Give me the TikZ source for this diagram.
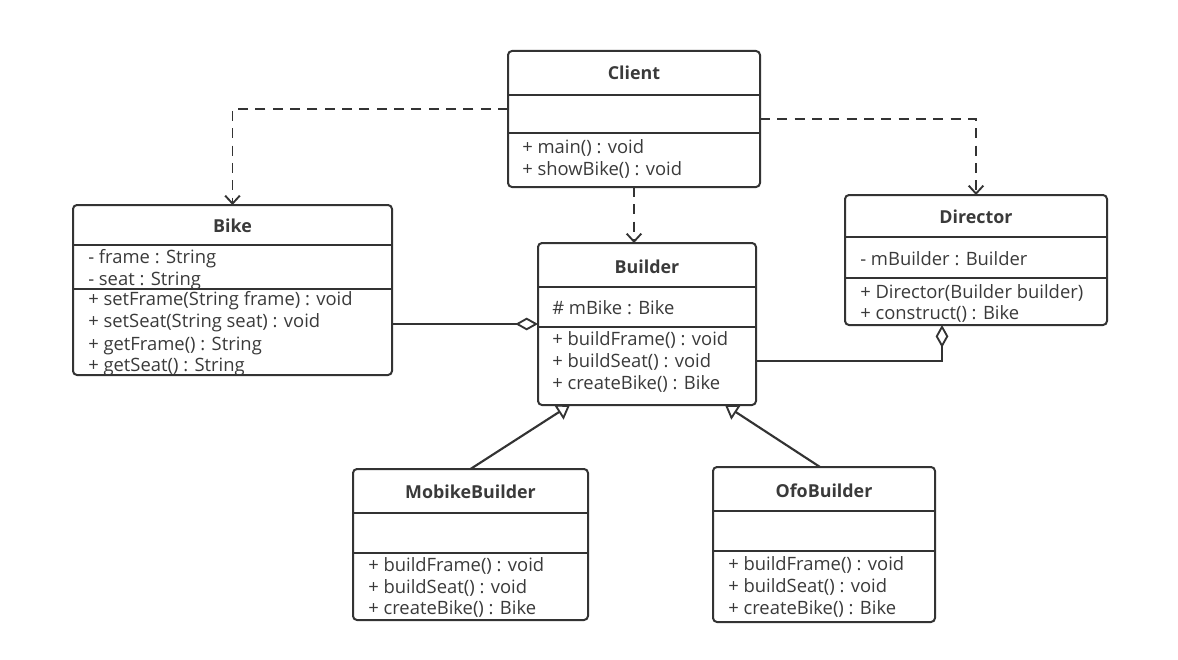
\documentclass[tikz,border=0pt]{standalone}
\usepackage{fontspec}
\setmainfont{Open Sans}
\usetikzlibrary{arrows.meta}
\definecolor{lc}{HTML}{333333}
\definecolor{tc}{HTML}{3A3A3A}
\tikzset{
  cls/.style={draw=lc, line width=1.5pt, rounded corners=3pt, anchor=north west, inner sep=0pt, outer sep=0pt},
  divl/.style={draw=lc, line width=1.5pt},
  ttl/.style={font=\fontsize{13.4}{15}\selectfont\bfseries, text=tc, inner sep=0pt},
  mem/.style={font=\fontsize{13.8}{15}\selectfont, text=tc, anchor=west, inner sep=0pt},
  dep/.style={draw=lc, line width=1.4pt, dash pattern=on 7.5pt off 5.5pt, -{Straight Barb[length=6pt,width=11pt,line width=1.4pt]}},
  agg/.style={draw=lc, line width=1.6pt, -{Diamond[open,length=17pt,width=9.5pt,line width=1.4pt]}},
  gen/.style={draw=lc, line width=1.6pt, -{Triangle[open,length=10pt,width=13pt,line width=1.4pt]}}
}
\begin{document}
\begin{tikzpicture}[x=0.75pt,y=-0.75pt]
\useasboundingbox (0,0) rectangle (1178,660);
% Client
\node[cls, minimum width=189pt, minimum height=102pt] (client) at (508,51) {};
\draw[divl] (508,95) -- (760,95);
\draw[divl] (508,133) -- (760,133);
\node[ttl] (clientT) at (634,73) {Client};
\node[mem] (c1) at (522,148) {+ main() : void};
\node[mem] (c2) at (522,170) {+ showBike() : void};
% Bike
\node[cls, minimum width=239.25pt, minimum height=127.5pt] (bike) at (73,205) {};
\draw[divl] (73,245) -- (392,245);
\draw[divl] (73,289) -- (392,289);
\node[ttl] (bikeT) at (232.5,226) {Bike};
\node[mem] (b1) at (88,259) {- frame : String};
\node[mem] (b2) at (88,281) {- seat : String};
\node[mem] (b3) at (88,301) {+ setFrame(String frame) : void};
\node[mem] (b4) at (88,323) {+ setSeat(String seat) : void};
\node[mem] (b5) at (88,346) {+ getFrame() : String};
\node[mem] (b6) at (88,367) {+ getSeat() : String};
% Builder
\node[cls, minimum width=163.5pt, minimum height=121.5pt] (builder) at (538,243) {};
\draw[divl] (538,287) -- (756,287);
\draw[divl] (538,327) -- (756,327);
\node[ttl] (builderT) at (647,267) {Builder};
\node[mem] (u1) at (552,308) {\# mBike : Bike};
\node[mem] (u2) at (552,340) {+ buildFrame() : void};
\node[mem] (u3) at (552,362) {+ buildSeat() : void};
\node[mem] (u4) at (552,384) {+ createBike() : Bike};
% Director
\node[cls, minimum width=196.5pt, minimum height=97.5pt] (director) at (845,195) {};
\draw[divl] (845,237) -- (1107,237);
\draw[divl] (845,278) -- (1107,278);
\node[ttl] (directorT) at (976,217) {Director};
\node[mem] (d1) at (860,259) {- mBuilder : Builder};
\node[mem] (d2) at (860,293) {+ Director(Builder builder)};
\node[mem] (d3) at (860,314) {+ construct() : Bike};
% MobikeBuilder
\node[cls, minimum width=176.25pt, minimum height=113.25pt] (mobike) at (353,469) {};
\draw[divl] (353,513) -- (588,513);
\draw[divl] (353,553) -- (588,553);
\node[ttl] (mobikeT) at (470.5,492) {MobikeBuilder};
\node[mem] (m1) at (368,566) {+ buildFrame() : void};
\node[mem] (m2) at (368,588) {+ buildSeat() : void};
\node[mem] (m3) at (368,609) {+ createBike() : Bike};
% OfoBuilder
\node[cls, minimum width=166.5pt, minimum height=116.25pt] (ofo) at (713,467) {};
\draw[divl] (713,511) -- (935,511);
\draw[divl] (713,551) -- (935,551);
\node[ttl] (ofoT) at (824,491) {OfoBuilder};
\node[mem] (o1) at (728,565) {+ buildFrame() : void};
\node[mem] (o2) at (728,587) {+ buildSeat() : void};
\node[mem] (o3) at (728,609) {+ createBike() : Bike};
% connectors
\draw[dep] (client.west |- 0,109) -| (bike.north);
\draw[dep] (client.east |- 0,119) -| (director.north);
\draw[dep] (client.south) -- (client.south |- builder.north);
\draw[agg] (bike.east |- 0,324) -- (builder.west |- 0,324);
\draw[agg] (builder.east |- 0,361) -| (director.south -| 942,0);
\draw[gen] (mobike.north) -- (builder.south -| 570,0);
\draw[gen] (ofo.north -| 820,0) -- (builder.south -| 725,0);
\end{tikzpicture}
\end{document}
